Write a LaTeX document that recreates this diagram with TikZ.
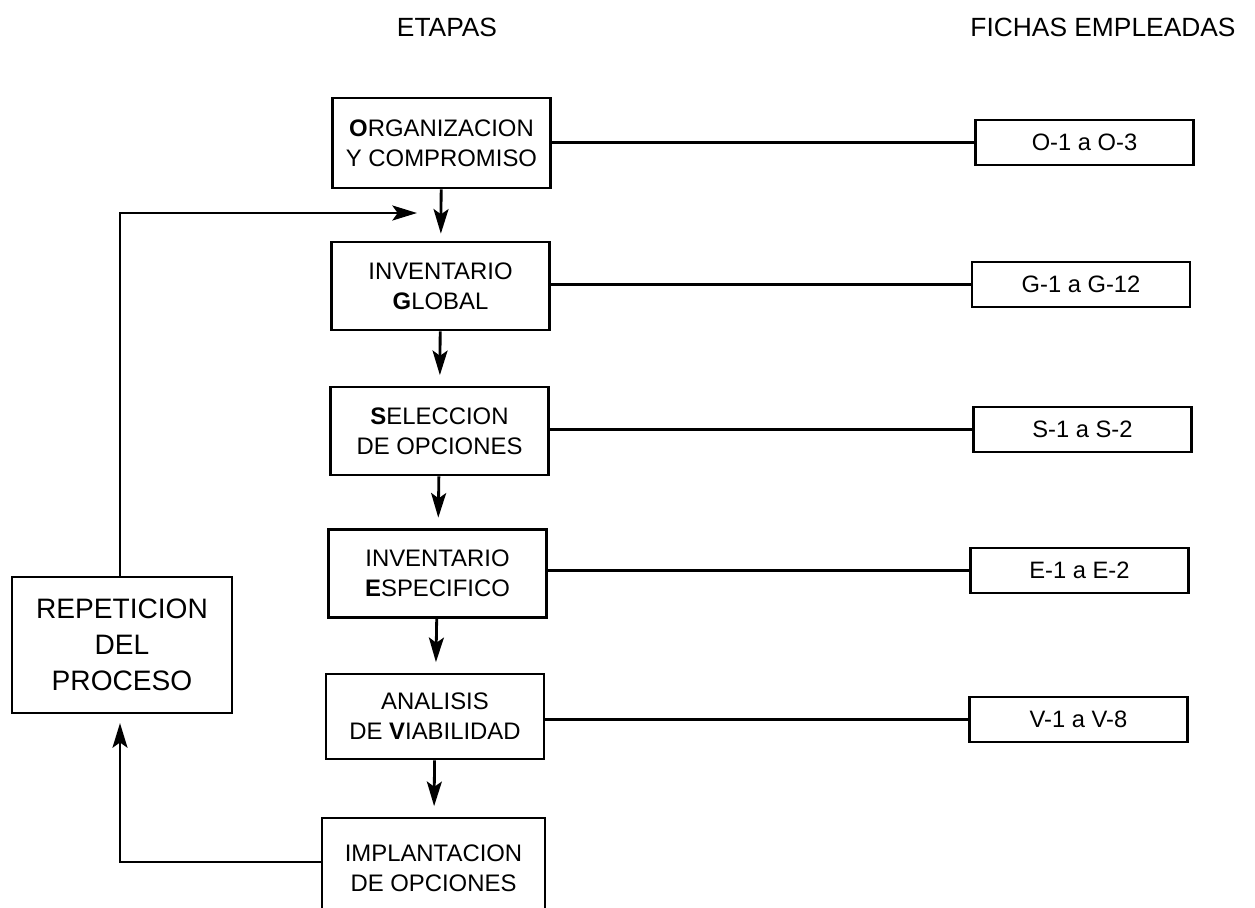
\documentclass[tikz,border=0pt]{standalone}
\usepackage{fontspec}
\setmainfont{Liberation Sans}
\usetikzlibrary{arrows.meta}
\begin{document}
\begin{tikzpicture}[x=0.02cm,y=-0.02cm,
  line width=1.6pt,
  stagebox/.style={draw, line width=1.5pt, minimum width=4.36cm, minimum height=1.76cm, align=center, inner sep=0pt, font=\fontsize{13.6}{17}\selectfont},
  fichabox/.style={draw, line width=1.5pt, minimum width=4.36cm, minimum height=0.9cm, inner sep=0pt, font=\fontsize{13.5}{16}\selectfont},
  header/.style={font=\fontsize{15}{18}\selectfont, inner sep=0pt},
  arr/.style={-{Stealth[length=14pt,width=8.5pt,inset=3pt]}, line width=1.6pt}
]
\useasboundingbox (0,0) rectangle (1255,907);

\node[header] (h1) at (447,27) {ETAPAS};
\node[header] (h2) at (1103,27) {FICHAS EMPLEADAS};

\node[stagebox, minimum height=1.8cm] (B1) at (441.5,143) {{\bfseries O}RGANIZACION\\Y COMPROMISO};
\node[stagebox] (B2) at (440.5,286) {INVENTARIO\\{\bfseries G}LOBAL};
\node[stagebox] (B3) at (439.5,431) {{\bfseries S}ELECCION\\DE OPCIONES};
\node[stagebox] (B4) at (437.5,573.5) {INVENTARIO\\{\bfseries E}SPECIFICO};
\node[stagebox, minimum height=1.7cm] (B5) at (435,716.5) {ANALISIS\\DE {\bfseries V}IABILIDAD};
\node[stagebox, minimum width=4.46cm, minimum height=2cm] (B6) at (433.5,868) {IMPLANTACION\\DE OPCIONES};

\node[fichabox] (FO) at (1084.5,142.5) {O-1 a O-3};
\node[fichabox] (FG) at (1081,284.5) {G-1 a G-12};
\node[fichabox] (FS) at (1082.5,429.5) {S-1 a S-2};
\node[fichabox] (FE) at (1079.5,570.5) {E-1 a E-2};
\node[fichabox] (FV) at (1078.5,719.5) {V-1 a V-8};

\node[draw, line width=1.5pt, minimum width=4.4cm, minimum height=2.72cm, align=center, inner sep=0pt, font=\fontsize{16}{20.5}\selectfont] (REP) at (122,645) {REPETICION\\DEL\\PROCESO};

\draw (FO.west -| B1.east) -- (FO.west);
\draw (FG.west -| B2.east) -- (FG.west);
\draw (FS.west -| B3.east) -- (FS.west);
\draw (FE.west -| B4.east) -- (FE.west);
\draw (FV.west -| B5.east) -- (FV.west);

\draw[arr, shorten >=4pt] (B1) -- (B2);
\draw[arr, shorten >=6pt] (B2) -- (B3);
\draw[arr, shorten >=6pt] (B3) -- (B4);
\draw[arr, shorten >=6pt] (B4) -- (B5);
\draw[arr, shorten >=6pt] (B5) -- (B6);

\coordinate (c1) at (120,862);
\draw[arr, shorten >=5pt] (B6.west |- c1) -- (c1) -- (REP.south -| c1);

\coordinate (c2) at (417,213);
\draw[arr] (REP.north -| c1) -- (c1 |- c2) -- (c2);
\end{tikzpicture}
\end{document}
